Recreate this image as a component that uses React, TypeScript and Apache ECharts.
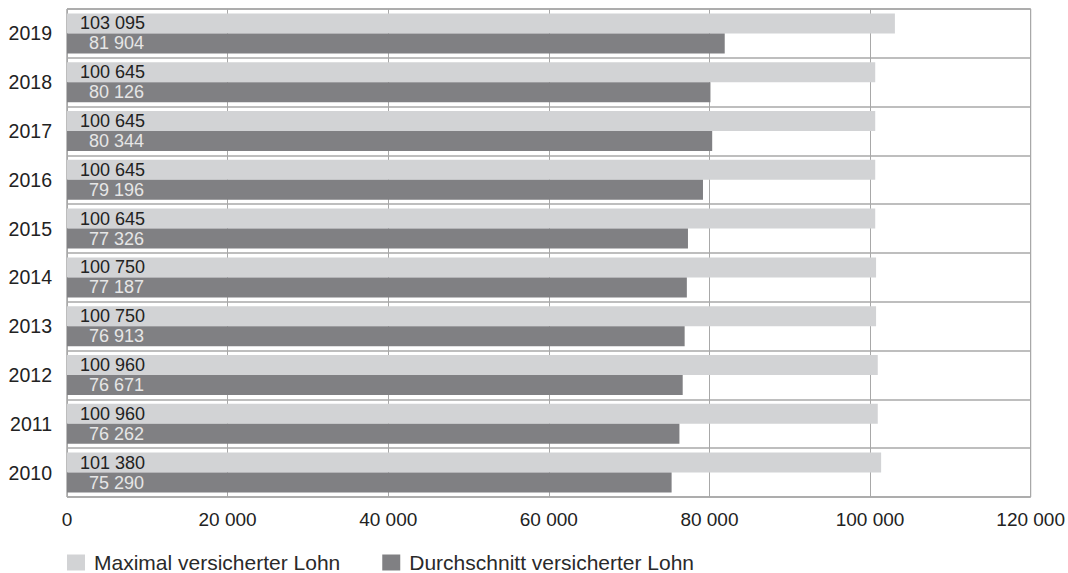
import React, { useEffect, useRef } from "react";
import * as echarts from "echarts";

// Years, bottom to top
const years = ["2010", "2011", "2012", "2013", "2014", "2015", "2016", "2017", "2018", "2019"];
// Maximum insured salary (CHF)
const maxInsured = [101380, 100960, 100960, 100750, 100750, 100645, 100645, 100645, 100645, 103095];
// Average insured salary (CHF)
const avgInsured = [75290, 76262, 76671, 76913, 77187, 77326, 79196, 80344, 80126, 81904];

const seriesNames = ["Maximal versicherter Lohn", "Durchschnitt versicherter Lohn"];
const xTicks = { min: 0, max: 120000, interval: 20000 };

const FONT = "'Liberation Sans', Arial, Helvetica, sans-serif";

const fmt = (v: number) => String(v).replace(/\B(?=(\d{3})+(?!\d))/g, " ");

export default function App() {
  const ref = useRef<HTMLDivElement>(null);

  useEffect(() => {
    if (!ref.current) return;
    const chart = echarts.init(ref.current, undefined, { renderer: "svg" });
    chart.setOption({
      animation: false,
      backgroundColor: "#ffffff",
      textStyle: { fontFamily: FONT },
      grid: {
        left: 67,
        right: 36,
        top: 9,
        bottom: 76,
        show: true,
        borderColor: "#7a7a7a",
        borderWidth: 1,
        backgroundColor: "transparent",
        containLabel: false,
      },
      legend: {
        left: 62,
        top: 547,
        icon: "rect",
        itemWidth: 18,
        itemHeight: 16,
        itemGap: 42,
        selectedMode: false,
        textStyle: {
          fontFamily: FONT,
          fontSize: 21,
          lineHeight: 20,
          color: "#2a2a2a",
          padding: [0, 0, 0, 4],
        },
        data: seriesNames,
      },
      xAxis: {
        type: "value",
        min: xTicks.min,
        max: xTicks.max,
        interval: xTicks.interval,
        axisLine: { show: false },
        axisTick: { show: false },
        axisLabel: {
          fontFamily: FONT,
          fontSize: 19,
          color: "#222222",
          margin: 13,
          formatter: (v: number) => fmt(v),
        },
        splitLine: { show: true, lineStyle: { color: "#a8a8a8", width: 1 } },
      },
      yAxis: {
        type: "category",
        data: years,
        axisLine: { show: false },
        axisTick: { show: false },
        axisLabel: {
          fontFamily: FONT,
          fontSize: 19.5,
          color: "#222222",
          margin: 15,
        },
        splitLine: { show: true, lineStyle: { color: "#a8a8a8", width: 1.5 } },
      },
      series: [
        {
          name: seriesNames[0],
          type: "bar",
          data: maxInsured,
          barGap: "0%",
          barCategoryGap: "18%",
          itemStyle: { color: "#d2d3d5" },
          label: {
            show: true,
            position: "insideLeft",
            distance: 13,
            fontFamily: FONT,
            fontSize: 18,
            color: "#222222",
            formatter: (p: any) => fmt(p.value),
          },
        },
        {
          name: seriesNames[1],
          type: "bar",
          data: avgInsured,
          barGap: "0%",
          barCategoryGap: "18%",
          itemStyle: { color: "#808083" },
          label: {
            show: true,
            position: "insideLeft",
            distance: 22,
            fontFamily: FONT,
            fontSize: 18,
            color: "#e6e6e6",
            formatter: (p: any) => fmt(p.value),
          },
        },
      ],
    });
    return () => chart.dispose();
  }, []);

  return (
    <div
      ref={ref}
      style={{ position: "absolute", left: 0, top: 0, width: 1068, height: 573 }}
    />
  );
}
